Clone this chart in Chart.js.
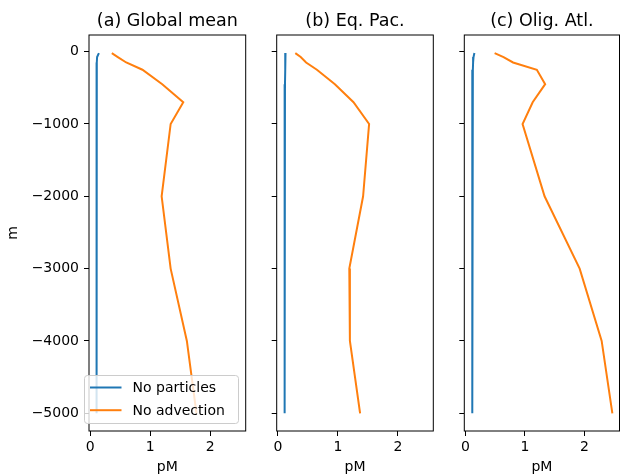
<!DOCTYPE html>
<html>
<head>
<meta charset="utf-8">
<title>Profiles</title>
<script src="https://cdn.jsdelivr.net/npm/chart.js@4/dist/chart.umd.min.js"></script>
<style>
  body { margin: 0; background: #fff; }
  #wrap { position: relative; width: 620px; height: 476px; }
  #wrap canvas { position: absolute; left: 0; top: 0; }
</style>
</head>
<body>
<div id="wrap">
  <canvas id="panelA" width="620" height="476"></canvas>
  <canvas id="panelB" width="620" height="476"></canvas>
  <canvas id="panelC" width="620" height="476"></canvas>
</div>
<script>
// DATA
const depths = [-20, -75, -150, -250, -450, -700, -1000, -2000, -3000, -4000, -5000];
const seriesNames = ['No particles', 'No advection'];
const panelTitles = ['(a) Global mean', '(b) Eq. Pac.', '(c) Olig. Atl.'];

const globalNoParticles = [0.145, 0.115, 0.11, 0.108, 0.107, 0.107, 0.106, 0.106, 0.105, 0.105, 0.105];
const globalNoAdvection = [0.36, 0.46, 0.6, 0.87, 1.2, 1.55, 1.34, 1.19, 1.34, 1.61, 1.77];
const pacNoParticles = [0.127, 0.125, 0.122, 0.12, 0.118, 0.116, 0.114, 0.112, 0.111, 0.11, 0.11];
const pacNoAdvection = [0.29, 0.38, 0.47, 0.65, 0.95, 1.26, 1.52, 1.42, 1.19, 1.2, 1.37];
const atlNoParticles = [0.15, 0.135, 0.128, 0.124, 0.12, 0.118, 0.116, 0.113, 0.112, 0.111, 0.11];
const atlNoAdvection = [0.49, 0.64, 0.8, 1.2, 1.34, 1.13, 0.96, 1.33, 1.92, 2.29, 2.47];

const xTicks = [0, 1, 2];
const yTicks = [0, -1000, -2000, -3000, -4000, -5000];

const colors = ['#1f77b4', '#ff7f0e'];
const FONT = "'DejaVu Sans', sans-serif";
Chart.defaults.font.family = FONT;
Chart.defaults.color = '#000';

const toPoints = (vals) => vals.map((v, i) => ({ x: v, y: depths[i] }));

// frame round each axes box
const framePlugin = {
  id: 'frame',
  afterDatasetsDraw(chart) {
    const { ctx, chartArea: a } = chart;
    ctx.save();
    ctx.strokeStyle = '#000';
    ctx.lineWidth = 1;
    ctx.strokeRect(a.left, a.top, a.right - a.left, a.bottom - a.top);
    ctx.restore();
  }
};

// legend box in the lower left corner (matplotlib style)
const boxLegend = {
  id: 'boxLegend',
  afterDraw(chart) {
    const { ctx, chartArea: a } = chart;
    const w = 154, h = 48;
    const x = a.left - 4.5, y = a.bottom - 7.5 - h;
    ctx.save();
    ctx.beginPath();
    ctx.roundRect(x, y, w, h, 3);
    ctx.fillStyle = 'rgba(255,255,255,0.8)';
    ctx.fill();
    ctx.strokeStyle = '#cccccc';
    ctx.lineWidth = 1;
    ctx.stroke();
    ctx.font = '14px ' + FONT;
    ctx.textAlign = 'left';
    ctx.textBaseline = 'middle';
    chart.data.datasets.forEach((ds, i) => {
      const ly = y + 12 + i * 22.7;
      ctx.strokeStyle = ds.borderColor;
      ctx.lineWidth = 2;
      ctx.beginPath();
      ctx.moveTo(x + 5.5, ly);
      ctx.lineTo(x + 37, ly);
      ctx.stroke();
      ctx.fillStyle = '#000';
      ctx.fillText(ds.label, x + 48, ly + 1);
    });
    ctx.restore();
  }
};

function makePanel(id, title, blue, orange, pad, first) {
  const ctx = document.getElementById(id).getContext('2d');
  return new Chart(ctx, {
    type: 'scatter',
    data: {
      datasets: [
        { label: seriesNames[0], data: toPoints(blue), borderColor: colors[0], backgroundColor: colors[0] },
        { label: seriesNames[1], data: toPoints(orange), borderColor: colors[1], backgroundColor: colors[1] },
      ].map((d) => Object.assign(d, { showLine: true, pointRadius: 0, borderWidth: 2, tension: 0 })),
    },
    options: {
      responsive: false,
      animation: false,
      events: [],
      layout: { padding: { left: pad.left, right: pad.right, top: 0, bottom: 0 } },
      plugins: {
        legend: { display: false },
        tooltip: { enabled: false },
        title: {
          display: true,
          text: title,
          fullSize: false,
          color: '#000',
          font: { size: 17.5, weight: 'normal' },
          padding: { top: 11, bottom: 3 },
        },
      },
      scales: {
        x: {
          type: 'linear',
          min: -0.02,
          max: 2.59,
          border: { display: false },
          grid: { drawOnChartArea: false, drawTicks: true, tickLength: 5, tickColor: '#000' },
          ticks: { color: '#000', font: { size: 14 }, padding: 3, maxRotation: 0 },
          afterBuildTicks: (s) => { s.ticks = xTicks.map((v) => ({ value: v })); },
          afterFit: (s) => { s.height = 45; },
          title: { display: true, text: 'pM', color: '#000', font: { size: 14 }, padding: 0 },
        },
        y: {
          type: 'linear',
          min: -5245,
          max: 230,
          border: { display: false },
          grid: { drawOnChartArea: false, drawTicks: true, tickLength: 5, tickColor: '#000' },
          ticks: {
            display: first,
            color: '#000',
            font: { size: 14 },
            padding: 5,
            callback: (v) => String(v).replace('-', '\u2212'),
          },
          afterBuildTicks: (s) => { s.ticks = yTicks.map((v) => ({ value: v })); },
          afterFit: (s) => { s.width = pad.axis; },
          title: { display: first, text: 'm', color: '#000', font: { size: 14 }, padding: { top: 5 } },
        },
      },
    },
    plugins: first ? [framePlugin, boxLegend] : [framePlugin],
  });
}

makePanel('panelA', panelTitles[0], globalNoParticles, globalNoAdvection, { left: 0, right: 374.3, axis: 89 }, true);
makePanel('panelB', panelTitles[1], pacNoParticles, pacNoAdvection, { left: 249.7, right: 186.7, axis: 27 }, false);
makePanel('panelC', panelTitles[2], atlNoParticles, atlNoAdvection, { left: 437.3, right: 0.5, axis: 27 }, false);
</script>
</body>
</html>
